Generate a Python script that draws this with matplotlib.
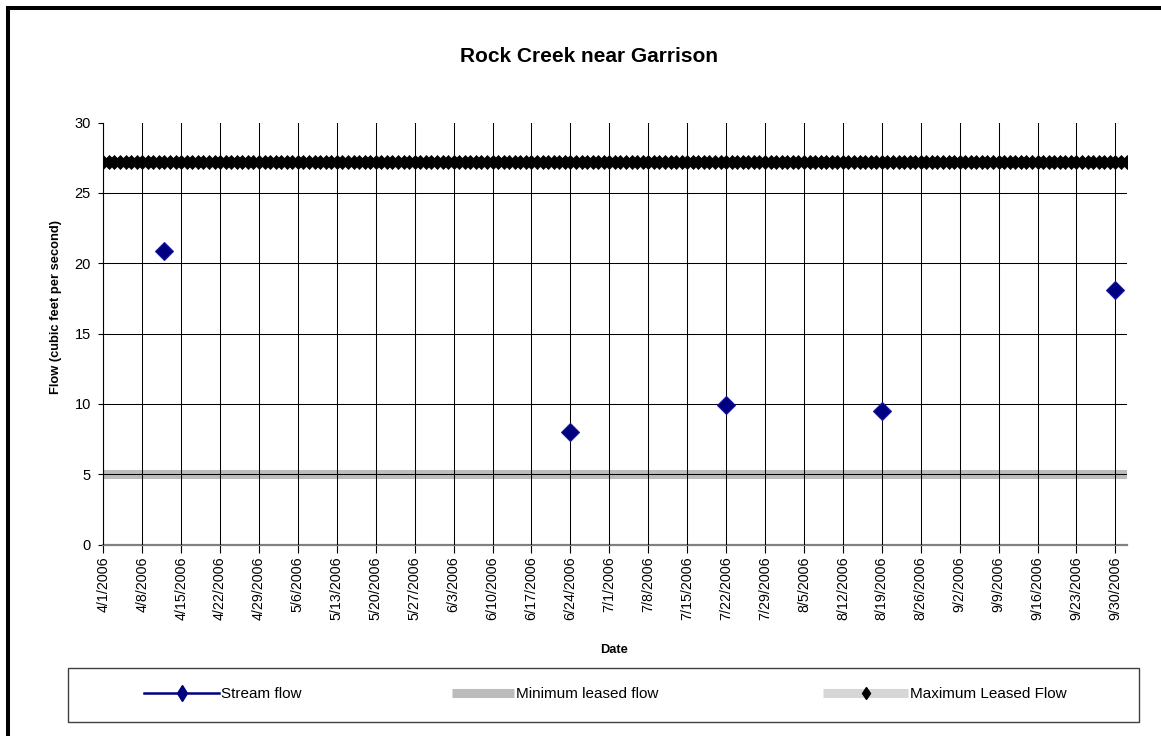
import numpy as np
import pandas as pd
import matplotlib
matplotlib.use('Agg')
import matplotlib.pyplot as plt
from matplotlib.lines import Line2D
from matplotlib.patches import Rectangle

plt.rcParams['font.family'] = ['Liberation Sans', 'DejaVu Sans']

# data
stream_dates = pd.to_datetime(['2006-04-12', '2006-06-24', '2006-07-22', '2006-08-19', '2006-09-30'])
stream_flow = [20.9, 8.0, 9.9, 9.5, 18.1]

leased_dates = pd.date_range('2006-04-01', '2006-10-02', freq='D')
min_leased = np.full(len(leased_dates), 5.0)
max_leased = np.full(len(leased_dates), 27.2)

tick_dates = pd.date_range('2006-04-01', '2006-09-30', freq='7D')
tick_labels = [f"{d.month}/{d.day}/{d.year}" for d in tick_dates]
y_ticks = [0, 5, 10, 15, 20, 25, 30]

W, H = 1161, 736
fig = plt.figure(figsize=(W / 100, H / 100), dpi=100)
ax = fig.add_axes([103.3 / W, 1 - 544.5 / H, (1126.5 - 103.3) / W, (544.5 - 122.7) / H])

ax.plot(leased_dates, min_leased, color='#bcbcbc', lw=6.5, solid_capstyle='butt', zorder=2)
ax.plot(leased_dates, max_leased, ls='none', marker='D', ms=7.4, mfc='black', mec='black',
        mew=0.5, zorder=4)
ax.plot(stream_dates, stream_flow, ls='none', marker='D', ms=9.6, mfc='#000080', mec='#1a1a9a',
        mew=0.8, zorder=5)

ax.set_xlim(leased_dates[0], leased_dates[-1])
ax.set_ylim(0, 30)
ax.set_xticks(tick_dates)
ax.set_xticklabels(tick_labels, rotation=90, fontsize=10.3)
ax.set_yticks(y_ticks)
ax.set_yticklabels([str(v) for v in y_ticks], fontsize=10.5)

# grid
for d in tick_dates:
    ax.axvline(d, color='black', lw=0.75, zorder=3)
for v in y_ticks[1:-1]:
    ax.axhline(v, color='black', lw=0.75, zorder=3)

for s in ['top', 'right']:
    ax.spines[s].set_visible(False)
ax.spines['left'].set_color('black')
ax.spines['left'].set_linewidth(0.8)
ax.spines['bottom'].set_color('#808080')
ax.spines['bottom'].set_linewidth(1.6)
ax.tick_params(axis='y', direction='out', length=3.6, width=0.8, pad=5.3, colors='black')
ax.tick_params(axis='x', direction='out', length=5.5, width=0.8, pad=3, colors='black')

fig.text(589.5 / W, 1 - 61.5 / H, 'Rock Creek near Garrison', ha='center', va='baseline',
         fontsize=15, fontweight='bold')
fig.text(56.5 / W, 1 - 307.5 / H, 'Flow (cubic feet per second)', ha='center', va='center',
         rotation=90, fontsize=9.3, fontweight='bold')
fig.text(614 / W, 1 - 650 / H, 'Date', ha='center', va='center', fontsize=9.3, fontweight='bold')

# outer frame (only top and left visible)
fig.add_artist(Rectangle((8 / W, -0.1), 1.2, 1.1 - 8 / H, transform=fig.transFigure,
                         fill=False, ec='black', lw=2.9))

# legend box
fig.add_artist(Rectangle((67.7 / W, 1 - 721.5 / H), (1139.3 - 67.7) / W, (721.5 - 668.3) / H,
                         transform=fig.transFigure, fill=False, ec='#404040', lw=1.0))

fs = 11
em = fs * 100 / 72
ly = 1 - 694 / H
h_stream = Line2D([], [], color='#000080', lw=1.8, marker='d', ms=8, mfc='#000080', mec='#000080')
h_min = Line2D([], [], color='#bcbcbc', lw=6.5, solid_capstyle='butt')
h_max = Line2D([], [], color='#d6d6d6', lw=6.5, solid_capstyle='butt', marker='d', ms=6,
               mfc='black', mec='black')
entries = [(h_stream, 'Stream flow', 144, 219),
           (h_min, 'Minimum leased flow', 452, 514),
           (h_max, 'Maximum Leased Flow', 823, 908)]
for h, lab, x0, x1 in entries:
    fig.legend(handles=[h], labels=[lab], loc='center left', bbox_to_anchor=(x0 / W, ly),
               frameon=False, borderpad=0, borderaxespad=0, handlelength=(x1 - x0) / em,
               handletextpad=0.1, fontsize=fs, numpoints=1)

fig.savefig('out.png', dpi=100, facecolor='white')
